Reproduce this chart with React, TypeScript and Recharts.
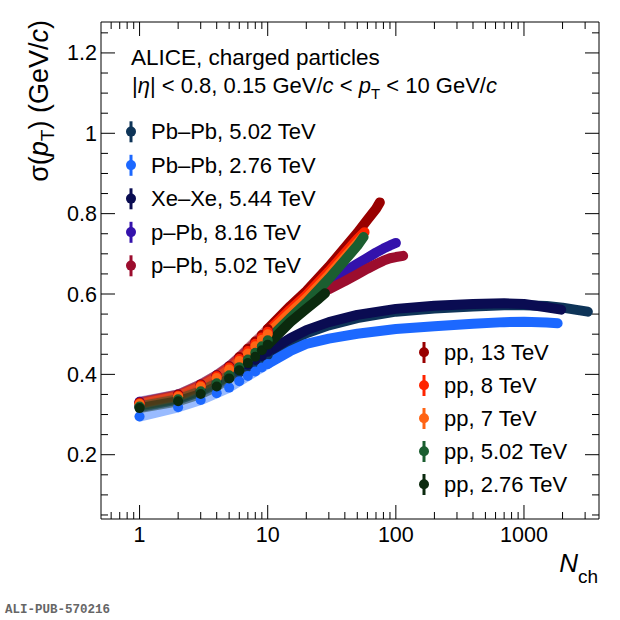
import React from 'react';
import { LineChart, Line, XAxis, YAxis } from 'recharts';

// Nch values and sigma(pT) (GeV/c)
const pbpb502Nch = [1, 2, 3, 4, 5, 6, 7, 8, 9, 10, 15, 20, 30, 50, 100, 200, 400, 700, 1000, 1500, 2000, 2500, 3150];
const pbpb502Sigma = [0.318, 0.337, 0.357, 0.376, 0.391, 0.405, 0.418, 0.429, 0.439, 0.448, 0.482, 0.502, 0.522, 0.54, 0.556, 0.564, 0.569, 0.572, 0.572, 0.57, 0.566, 0.561, 0.556];

const pbpb276Nch = [1, 2, 3, 4, 5, 6, 7, 8, 9, 10, 15, 20, 30, 50, 100, 200, 400, 700, 1000, 1500, 1830];
const pbpb276Sigma = [0.295, 0.318, 0.336, 0.353, 0.367, 0.383, 0.396, 0.407, 0.417, 0.426, 0.458, 0.476, 0.489, 0.501, 0.513, 0.52, 0.526, 0.53, 0.531, 0.529, 0.527];

const xexeNch = [1, 2, 3, 4, 5, 6, 7, 8, 9, 10, 15, 20, 30, 50, 100, 200, 400, 700, 1000, 1500, 1950];
const xexeSigma = [0.322, 0.341, 0.361, 0.381, 0.396, 0.411, 0.424, 0.436, 0.446, 0.456, 0.49, 0.51, 0.53, 0.548, 0.563, 0.571, 0.575, 0.577, 0.575, 0.567, 0.561];

const ppb816Nch = [1, 2, 3, 4, 5, 6, 7, 8, 9, 10, 15, 20, 30, 40, 50, 60, 70, 80, 90, 100];
const ppb816Sigma = [0.332, 0.35, 0.375, 0.398, 0.42, 0.442, 0.462, 0.479, 0.495, 0.508, 0.56, 0.592, 0.632, 0.656, 0.675, 0.69, 0.703, 0.713, 0.721, 0.727];

const ppb502Nch = [1, 2, 3, 4, 5, 6, 7, 8, 9, 10, 15, 20, 30, 40, 50, 60, 70, 80, 90, 100, 114];
const ppb502Sigma = [0.33, 0.348, 0.373, 0.396, 0.418, 0.44, 0.46, 0.477, 0.492, 0.505, 0.555, 0.582, 0.612, 0.632, 0.649, 0.663, 0.674, 0.683, 0.689, 0.692, 0.695];

const pp13Nch = [1, 2, 3, 4, 5, 6, 7, 8, 9, 10, 15, 20, 30, 40, 50, 60, 70, 75];
const pp13Sigma = [0.33, 0.35, 0.375, 0.398, 0.42, 0.443, 0.464, 0.482, 0.498, 0.513, 0.57, 0.607, 0.668, 0.715, 0.752, 0.785, 0.812, 0.828];

const pp8Nch = [1, 2, 3, 4, 5, 6, 7, 8, 9, 10, 15, 20, 30, 40, 50, 57];
const pp8Sigma = [0.328, 0.347, 0.372, 0.395, 0.417, 0.438, 0.458, 0.476, 0.492, 0.506, 0.561, 0.597, 0.656, 0.701, 0.736, 0.754];

const pp7Nch = [1, 2, 3, 4, 5, 6, 7, 8, 9, 10, 15, 20, 30, 40, 50, 55];
const pp7Sigma = [0.326, 0.345, 0.369, 0.391, 0.412, 0.433, 0.452, 0.47, 0.486, 0.5, 0.553, 0.589, 0.647, 0.691, 0.726, 0.741];

const pp502Nch = [1, 2, 3, 4, 5, 6, 7, 8, 9, 10, 15, 20, 30, 40, 50, 56];
const pp502Sigma = [0.32, 0.338, 0.358, 0.378, 0.398, 0.418, 0.437, 0.454, 0.47, 0.485, 0.54, 0.578, 0.638, 0.684, 0.72, 0.742];

const pp276Nch = [1, 2, 3, 4, 5, 6, 7, 8, 9, 10, 15, 20, 25, 28];
const pp276Sigma = [0.316, 0.333, 0.351, 0.37, 0.39, 0.41, 0.428, 0.444, 0.46, 0.474, 0.53, 0.563, 0.588, 0.602];

const xMajorTicks = [1, 10, 100, 1000];
const xMinorTicks = [0.6, 0.7, 0.8, 0.9, 2, 3, 4, 5, 6, 7, 8, 9, 20, 30, 40, 50, 60, 70, 80, 90, 200, 300, 400, 500, 600, 700, 800, 900, 2000, 3000];
const yMajorTicks = [0.2, 0.4, 0.6, 0.8, 1, 1.2];
const yMinorTicks = [0.05, 0.1, 0.15, 0.25, 0.3, 0.35, 0.45, 0.5, 0.55, 0.65, 0.7, 0.75, 0.85, 0.9, 0.95, 1.05, 1.1, 1.15, 1.25];

const FONT = '"Liberation Sans", Arial, Helvetica, sans-serif';

const heavyIons = [
  { label: 'Pb\u2013Pb, 5.02 TeV', color: '#0e3458', nch: pbpb502Nch, sigma: pbpb502Sigma },
  { label: 'Pb\u2013Pb, 2.76 TeV', color: '#1c68ff', nch: pbpb276Nch, sigma: pbpb276Sigma },
  { label: 'Xe\u2013Xe, 5.44 TeV', color: '#0a0c52', nch: xexeNch, sigma: xexeSigma },
  { label: 'p\u2013Pb, 8.16 TeV', color: '#3412ac', nch: ppb816Nch, sigma: ppb816Sigma },
  { label: 'p\u2013Pb, 5.02 TeV', color: '#9c0d2e', nch: ppb502Nch, sigma: ppb502Sigma },
];

const ppSeries = [
  { label: 'pp, 13 TeV', color: '#990000', nch: pp13Nch, sigma: pp13Sigma },
  { label: 'pp, 8 TeV', color: '#ff2400', nch: pp8Nch, sigma: pp8Sigma },
  { label: 'pp, 7 TeV', color: '#ff6414', nch: pp7Nch, sigma: pp7Sigma },
  { label: 'pp, 5.02 TeV', color: '#1b5e30', nch: pp502Nch, sigma: pp502Sigma },
  { label: 'pp, 2.76 TeV', color: '#0b2a0e', nch: pp276Nch, sigma: pp276Sigma },
];

const allSeries = [...heavyIons, ...ppSeries];

const toRows = (nch: number[], sigma: number[], keep: (n: number) => boolean) =>
  nch.map((n, i) => ({ x: n, y: sigma[i] })).filter((p) => keep(p.x));

const XTick = (props: any) => {
  const { x, y, payload, side } = props;
  const v = payload.value;
  const major = xMajorTicks.includes(v);
  const len = major ? 14 : 7;
  const dir = side === 'bottom' ? -1 : 1;
  return (
    <g>
      <line x1={x} x2={x} y1={y} y2={y + dir * len} stroke="#000" strokeWidth={1} />
      {side === 'bottom' && major && (
        <text x={x} y={y + 23} textAnchor="middle" fontFamily={FONT} fontSize={21.5} fill="#000">
          {v}
        </text>
      )}
    </g>
  );
};

const YTick = (props: any) => {
  const { x, y, payload, side } = props;
  const v = payload.value;
  const major = yMajorTicks.some((t) => Math.abs(t - v) < 1e-6);
  const len = major ? 14 : 7;
  const dir = side === 'left' ? 1 : -1;
  return (
    <g>
      <line x1={x} x2={x + dir * len} y1={y} y2={y} stroke="#000" strokeWidth={1} />
      {side === 'left' && major && (
        <text x={x - 4} y={y + 7.5} textAnchor="end" fontFamily={FONT} fontSize={21.5} fill="#000">
          {v}
        </text>
      )}
    </g>
  );
};

const xTicks = [...xMajorTicks, ...xMinorTicks].sort((a, b) => a - b);
const yTicks = [...yMajorTicks, ...yMinorTicks].sort((a, b) => a - b);

function LegendRow({ x, y, color, label }: { x: number; y: number; color: string; label: string }) {
  return (
    <g>
      <line x1={x} x2={x} y1={y - 18} y2={y + 3} stroke={color} strokeWidth={3} />
      <circle cx={x} cy={y - 7.7} r={5} fill={color} />
      <text x={x + 20} y={y} fontFamily={FONT} fontSize={22} fill="#000">
        {label}
      </text>
    </g>
  );
}

export default function App() {
  return (
    <div style={{ position: 'absolute', left: 0, top: 0, width: 620, height: 620, background: '#fff' }}>
      <LineChart width={620} height={620} margin={{ top: 21, right: 20, bottom: 100, left: 100 }}>
        <XAxis
          xAxisId="b"
          type="number"
          dataKey="x"
          scale="log"
          domain={[0.5, 3850]}
          allowDataOverflow
          ticks={xTicks}
          interval={0}
          tick={<XTick side="bottom" />}
          tickLine={false}
          tickSize={0}
          tickMargin={0}
          height={1}
          axisLine={{ stroke: '#000' }}
        />
        <XAxis
          xAxisId="t"
          orientation="top"
          type="number"
          dataKey="x"
          scale="log"
          domain={[0.5, 3850]}
          allowDataOverflow
          ticks={xTicks}
          interval={0}
          tick={<XTick side="top" />}
          tickLine={false}
          tickSize={0}
          tickMargin={0}
          height={1}
          axisLine={{ stroke: '#000' }}
        />
        <YAxis
          yAxisId="l"
          type="number"
          domain={[0.04, 1.277]}
          allowDataOverflow
          ticks={yTicks}
          interval={0}
          tick={<YTick side="left" />}
          tickLine={false}
          tickSize={0}
          tickMargin={0}
          width={1}
          axisLine={{ stroke: '#000' }}
        />
        <YAxis
          yAxisId="r"
          orientation="right"
          type="number"
          domain={[0.04, 1.277]}
          allowDataOverflow
          ticks={yTicks}
          interval={0}
          tick={<YTick side="right" />}
          tickLine={false}
          tickSize={0}
          tickMargin={0}
          width={1}
          axisLine={{ stroke: '#000' }}
        />
        {allSeries.map((s) => [
          <Line
            key={s.label + '-low'}
            xAxisId="b"
            yAxisId="l"
            data={toRows(s.nch, s.sigma, (n) => n <= 10)}
            dataKey="y"
            stroke={s.color}
            strokeOpacity={0.45}
            strokeWidth={10}
            strokeLinecap="round"
            strokeLinejoin="round"
            dot={{ r: 5, fill: s.color, stroke: 'none' }}
            activeDot={false}
            isAnimationActive={false}
          />,
          <Line
            key={s.label + '-high'}
            xAxisId="b"
            yAxisId="l"
            data={toRows(s.nch, s.sigma, (n) => n >= 10)}
            dataKey="y"
            stroke={s.color}
            strokeWidth={10}
            strokeLinecap="round"
            strokeLinejoin="round"
            dot={false}
            activeDot={false}
            isAnimationActive={false}
          />,
        ])}
      </LineChart>
      <svg width={620} height={620} style={{ position: 'absolute', left: 0, top: 0, pointerEvents: 'none' }}>
        <text transform="translate(48,20) rotate(-90)" textAnchor="end" fontFamily={FONT} fontSize={27} fill="#000">
          σ(<tspan fontStyle="italic">p</tspan>
          <tspan fontSize={19} dy={6}>T</tspan>
          <tspan dy={-6}>) (GeV/</tspan>
          <tspan fontStyle="italic">c</tspan>)
        </text>
        <text x={598} y={572} textAnchor="end" fontFamily={FONT} fill="#000">
          <tspan fontSize={26} fontStyle="italic">N</tspan>
          <tspan fontSize={19} dy={11}>ch</tspan>
        </text>
        <text x={131} y={65} fontFamily={FONT} fontSize={22.5} fill="#000">
          ALICE, charged particles
        </text>
        <text x={132} y={93} fontFamily={FONT} fontSize={22} fill="#000">
          |<tspan fontStyle="italic">η</tspan>| &lt; 0.8, 0.15 GeV/<tspan fontStyle="italic">c</tspan> &lt;{' '}
          <tspan fontStyle="italic">p</tspan>
          <tspan fontSize={15} dy={6}>T</tspan>
          <tspan dy={-6}> &lt; 10 GeV/</tspan>
          <tspan fontStyle="italic">c</tspan>
        </text>
        {heavyIons.map((s, i) => (
          <LegendRow key={s.label} x={131} y={139.3 + i * 33.5} color={s.color} label={s.label} />
        ))}
        {ppSeries.map((s, i) => (
          <LegendRow key={s.label} x={424} y={360 + i * 33} color={s.color} label={s.label} />
        ))}
        <text x={5} y={613} fontFamily='"Liberation Mono", "DejaVu Sans Mono", monospace' fontWeight="bold" fontSize={12.5} fill="#666">
          ALI-PUB-570216
        </text>
      </svg>
    </div>
  );
}
